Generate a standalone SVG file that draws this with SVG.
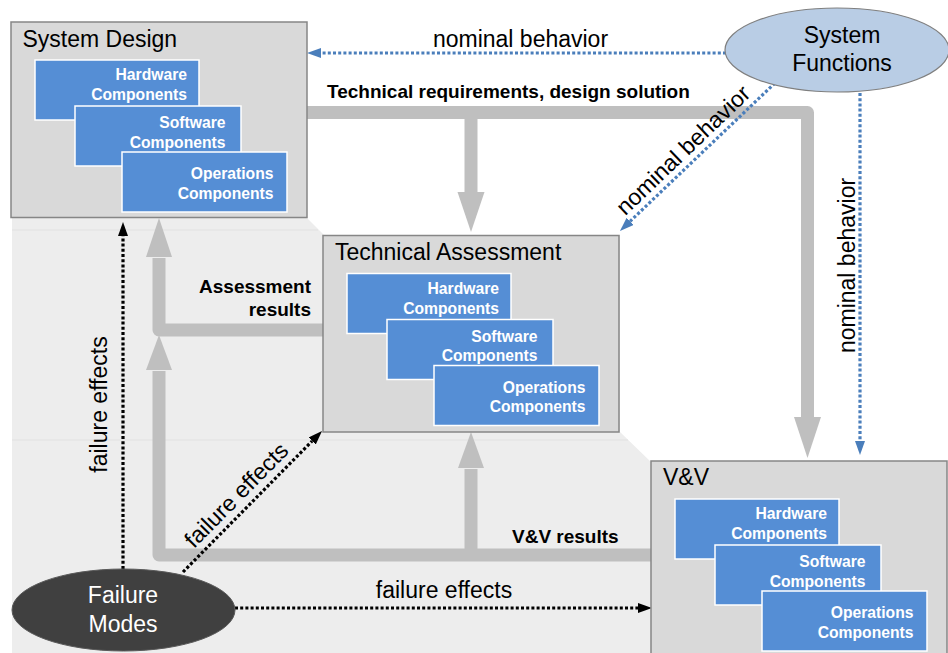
<svg xmlns="http://www.w3.org/2000/svg" width="948" height="653" viewBox="0 0 948 653">
  <defs>
    <style>
      .t { font-family: "Liberation Sans", Arial, sans-serif; fill: #000; }
      .reg { font-size: 23px; }
      .bold { font-size: 19px; font-weight: bold; }
      .comp { font-family: "Liberation Sans", Arial, sans-serif; font-size: 15.7px; font-weight: bold; fill: #fff; text-anchor: end; }
      .box { fill: #d9d9d9; stroke: #868686; stroke-width: 1.5; }
      .sub { fill: #558ed5; stroke: #fff; stroke-width: 1.5; }
      .flow { fill: none; stroke: #bfbfbf; stroke-width: 13; stroke-linejoin: round; }
      .head { fill: #bfbfbf; }
      .blue { fill: none; stroke: #4a7ebb; stroke-width: 3.2; stroke-dasharray: 3 2.2; }
      .black { fill: none; stroke: #000; stroke-width: 3.2; stroke-dasharray: 3 2.2; }
    </style>
    <marker id="arrowBlue" viewBox="0 0 14 10" refX="0" refY="5" markerWidth="14" markerHeight="10" markerUnits="userSpaceOnUse" orient="auto">
      <path d="M0,0 L14,5 L0,10 z" fill="#4a7ebb"/>
    </marker>
    <marker id="arrowBlack" viewBox="0 0 14 10" refX="0" refY="5" markerWidth="14" markerHeight="10" markerUnits="userSpaceOnUse" orient="auto">
      <path d="M0,0 L14,5 L0,10 z" fill="#000"/>
    </marker>
    <!-- component stack shared by the three process boxes -->
    <g id="stack">
      <rect class="sub" x="24" y="38" width="164" height="60"/>
      <text class="comp" x="176" y="58">Hardware</text>
      <text class="comp" x="176" y="78">Components</text>
      <rect class="sub" x="64" y="84" width="166" height="60"/>
      <text class="comp" x="214.5" y="106">Software</text>
      <text class="comp" x="214.5" y="125.5">Components</text>
      <rect class="sub" x="111" y="130" width="165" height="60"/>
      <text class="comp" x="262.5" y="157">Operations</text>
      <text class="comp" x="262.5" y="176.5">Components</text>
    </g>
  </defs>

  <rect width="948" height="653" fill="#fff"/>

  <!-- shaded band behind the loop -->
  <g id="band">
    <polygon points="12,218 307,218 324,235 620,235 620,432 651,462 651,653 12,653" fill="#ededed"/>
    <line x1="12" y1="230" x2="318" y2="230" stroke="#e2e2e2" stroke-width="1.2"/>
    <line x1="12" y1="440" x2="628" y2="440" stroke="#e2e2e2" stroke-width="1.2"/>
  </g>

  <g id="connectors">
    <!-- technical requirements flow -->
    <path class="flow" d="M307,112.5 H807.5 V418"/>
    <polygon class="head" points="794,417 821,417 807.5,458"/>
    <path class="flow" d="M471,112.5 V193"/>
    <polygon class="head" points="457.5,192 484.5,192 471,232"/>
    <!-- assessment results flow -->
    <path class="flow" d="M323,330 H159 V258"/>
    <polygon class="head" points="146,257 172,257 159,218"/>
    <!-- V&V results flow -->
    <path class="flow" d="M651,555 H159 V371"/>
    <polygon class="head" points="146,370 172,370 159,335"/>
    <path class="flow" d="M471,555 V469"/>
    <polygon class="head" points="458,468 484,468 471,432"/>

    <!-- nominal behavior (dotted blue) -->
    <line class="blue" x1="726" y1="53" x2="321" y2="53" marker-end="url(#arrowBlue)"/>
    <line class="blue" x1="775" y1="83" x2="630.1" y2="221.3" marker-end="url(#arrowBlue)"/>
    <line class="blue" x1="860" y1="93" x2="860" y2="441" marker-end="url(#arrowBlue)"/>

    <!-- failure effects (dotted black) -->
    <line class="black" x1="123" y1="569" x2="123" y2="236" marker-end="url(#arrowBlack)"/>
    <line class="black" x1="183" y1="572" x2="312.2" y2="441" marker-end="url(#arrowBlack)"/>
    <line class="black" x1="235" y1="608" x2="638" y2="608" marker-end="url(#arrowBlack)"/>

    <!-- labels -->
    <text class="t bold" x="327" y="98">Technical requirements, design solution</text>
    <text class="t bold" x="311" y="293" text-anchor="end">Assessment</text>
    <text class="t bold" x="311" y="316" text-anchor="end">results</text>
    <text class="t bold" x="512" y="543">V&amp;V results</text>
    <text class="t reg" x="520.5" y="47" text-anchor="middle">nominal behavior</text>
    <text class="t reg" text-anchor="middle" transform="translate(688.5,155.8) rotate(-43.7)">nominal behavior</text>
    <text class="t reg" text-anchor="middle" transform="translate(855,265.5) rotate(-90)">nominal behavior</text>
    <text class="t reg" text-anchor="middle" transform="translate(107,404.5) rotate(-90)">failure effects</text>
    <text class="t reg" text-anchor="middle" transform="translate(242,500.6) rotate(-45.4)">failure effects</text>
    <text class="t reg" x="444" y="598" text-anchor="middle">failure effects</text>
  </g>

  <g id="system-design" transform="translate(11,22)">
    <rect class="box" x="0" y="0" width="296" height="195.5"/>
    <text class="t reg" x="11.5" y="25">System Design</text>
    <use href="#stack"/>
  </g>

  <g id="technical-assessment" transform="translate(323,235.5)">
    <rect class="box" x="0" y="0" width="296" height="196.5"/>
    <text class="t reg" x="12" y="24.5">Technical Assessment</text>
    <use href="#stack"/>
  </g>

  <g id="vv" transform="translate(651,461)">
    <rect class="box" x="0" y="0" width="296" height="200"/>
    <text class="t reg" x="12" y="24">V&amp;V</text>
    <use href="#stack"/>
  </g>

  <g id="system-functions">
    <ellipse cx="837" cy="50" rx="112" ry="42" fill="#b9cde5" stroke="#7f7f7f" stroke-width="1.2"/>
    <text class="t reg" x="842" y="43" text-anchor="middle">System</text>
    <text class="t reg" x="842" y="71" text-anchor="middle">Functions</text>
  </g>

  <g id="failure-modes">
    <ellipse cx="123.5" cy="610" rx="111.5" ry="41" fill="#404040" stroke="#5a5a5a" stroke-width="1"/>
    <text class="t reg" x="123" y="603" text-anchor="middle" style="fill:#fff">Failure</text>
    <text class="t reg" x="123" y="632" text-anchor="middle" style="fill:#fff">Modes</text>
  </g>
</svg>
